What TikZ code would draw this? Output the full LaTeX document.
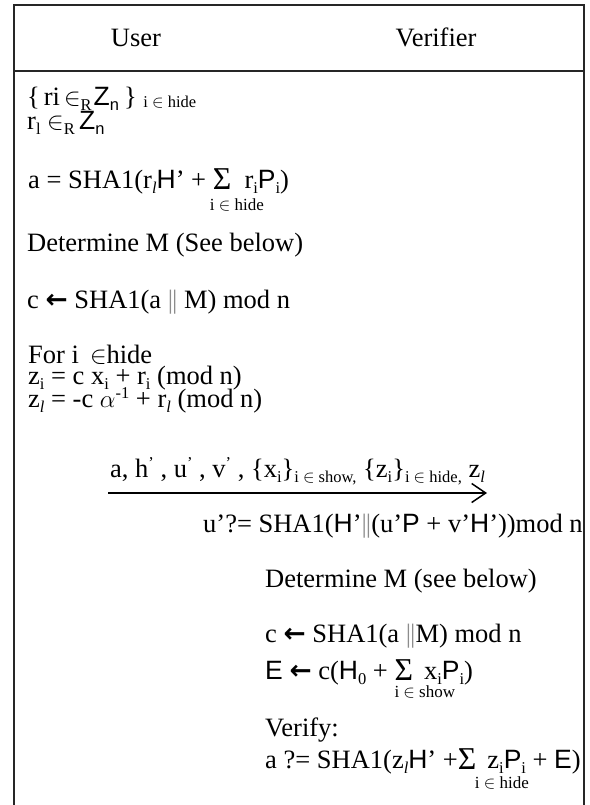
\documentclass[tikz,border=0pt]{standalone}
\usepackage{fontspec}
\setmainfont{Liberation Serif}
\newfontfamily\sa{Liberation Sans}
\newfontfamily\dvs{DejaVu Sans}
\usetikzlibrary{arrows.meta}
\newcommand\sbs[1]{\raisebox{-5pt}{\fontsize{16.5}{16.5}\selectfont #1}}
\newcommand\sps[1]{\raisebox{9pt}{\fontsize{16.5}{16.5}\selectfont #1}}
\newcommand\sumlim[3]{\makebox[0pt][l]{\kern#1\raisebox{-#2}{\fontsize{17}{17}\selectfont #3}}\raisebox{-1pt}{\scalebox{1.2}{Σ}}}
\newcommand\larr{{\dvs\bfseries ←}}
\newcommand\dbar{{\color{black!45}|\kern-1pt|}}
\begin{document}
\begin{tikzpicture}[x=1pt,y=-1pt,
  txt/.style={anchor=base west,inner sep=0pt,font=\fontsize{26.5}{28}\selectfont},
  hdr/.style={anchor=base,inner sep=0pt,font=\fontsize{26.5}{28}\selectfont},
  frame/.style={line width=1.6pt,black!85},
  msg/.style={line width=1.5pt,-{Straight Barb[length=14pt,width=19pt,line width=1.5pt]}}]
\useasboundingbox (0,0) rectangle (589,805);
% frame
\coordinate (bl) at (14,806);
\coordinate (tl) at (14,5);
\coordinate (tr) at (584,5);
\coordinate (br) at (584,806);
\coordinate (hl) at (14,71);
\coordinate (hr) at (584,71);
\draw[frame] (bl) -- (tl) -- (tr) -- (br);
\draw[frame] (hl) -- (hr);
% header
\node[hdr] (user) at (136,47) {User};
\node[hdr] (ver) at (436,47) {Verifier};
% user side
\node[txt] (l1) at (27,106) {\{\kern4pt ri\kern4pt$\in$\sbs{R}\kern2pt{\sa Z}\sbs{\sa n}\kern5pt\}\ \raisebox{-2pt}{\fontsize{16.5}{16.5}\selectfont i $\in$ hide}};
\node[txt] (l2) at (27,130) {r\sbs{l} $\in$\sbs{R}\,{\sa Z}\sbs{\sa n}};
\node[txt] (l3) at (28,189) {a = SHA1(r\sbs{\itshape l}{\sa H}’ + \sumlim{-3pt}{22pt}{i $\in$ hide}\ \ r\sbs{i}{\sa P}\sbs{i})};
\node[txt] (l4) at (27,251) {Determine M (See below)};
\node[txt] (l5) at (27,308) {c \larr\ SHA1(a \dbar\ M) mod n};
\node[txt] (l6) at (28,363) {For i \,$\in$hide};
\node[txt] (l7) at (28,384) {z\sbs{i} = c x\sbs{i} + r\sbs{i} (mod n)};
\node[txt] (l8) at (28,407) {z\sbs{\itshape l} = -c $\alpha$\sps{-1} + r\sbs{\itshape l} (mod n)};
% message
\node[txt] (lab) at (110,477) {a, h\sps{’} , u\sps{’} , v\sps{’} , \{x\sbs{i}\}\sbs{i $\in$ show,}\ \{z\sbs{i}\}\sbs{i $\in$ hide,} z\sbs{\itshape l}};
\coordinate (m1) at (108,493);
\coordinate (m2) at (487,493);
\draw[msg] (m1) -- (m2);
% verifier side
\node[txt] (r1) at (203,532) {u’?= SHA1({\sa H}’\dbar({u’\sa P} + v’{\sa H}’))mod n};
\node[txt] (r2) at (265,587) {Determine M (see below)};
\node[txt] (r3) at (265,642) {c \larr\ SHA1(a \dbar M) mod n};
\node[txt] (r4) at (265,679) {{\sa E} \larr\ c({\sa H}\sbs{0} + \sumlim{0pt}{18pt}{i $\in$ show}\, x\sbs{i}{\sa P}\sbs{i})};
\node[txt] (r5) at (265,736) {Verify:};
\node[txt] (r6) at (265,768) {a ?= SHA1(z\sbs{\itshape l}{\sa H}’ +\sumlim{17pt}{20pt}{i $\in$ hide}\, z\sbs{i}{\sa P}\sbs{i} + {\sa E})};
\end{tikzpicture}
\end{document}
